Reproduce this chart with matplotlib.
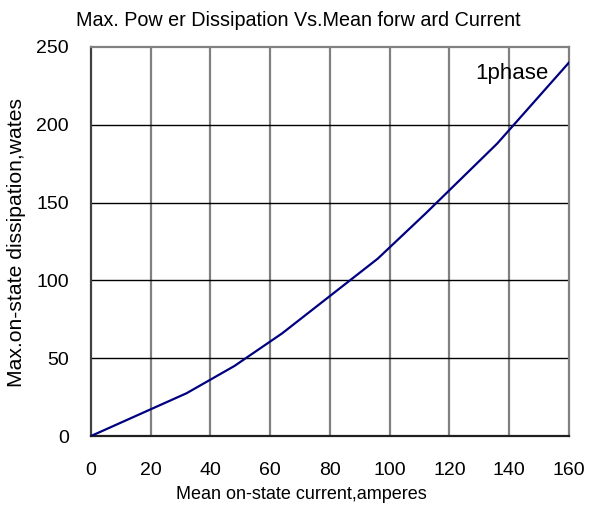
import matplotlib
matplotlib.use('Agg')
import matplotlib.pyplot as plt

# values
current = [0, 32, 48, 64, 80, 96, 112, 128, 136, 148, 160]
power = [0, 27.5, 45, 66, 90, 114, 143, 173, 188, 214, 240]

x_ticks = [0, 20, 40, 60, 80, 100, 120, 140, 160]
y_ticks = [0, 50, 100, 150, 200, 250]

plt.rcParams['font.family'] = ['Liberation Sans', 'DejaVu Sans']

fig = plt.figure(figsize=(5.89, 5.08), dpi=100)
ax = fig.add_axes([0.1545, 0.1417, 0.8115, 0.7658])

for x in x_ticks[1:-1]:
    ax.axvline(x, color='#808080', lw=1.6, zorder=1)
for y in y_ticks[1:-1]:
    ax.axhline(y, color='black', lw=1.0, zorder=1)

ax.plot(current, power, color='#000080', lw=1.6, zorder=3)

ax.set_xlim(0, 160)
ax.set_ylim(0, 250)
ax.set_xticks(x_ticks)
ax.set_yticks(y_ticks)
ax.tick_params(axis='x', length=0, pad=19, labelsize=14)
ax.tick_params(axis='y', length=0, pad=16, labelsize=14)

ax.spines['left'].set_color('#404040')
ax.spines['bottom'].set_color('#202020')
ax.spines['top'].set_color('#808080')
ax.spines['right'].set_color('#808080')
for s in ax.spines.values():
    s.set_linewidth(1.6)

ax.text(128.5, 233, '1phase', fontsize=16, va='center', ha='left')

# title and x label sit left of the plot-area centre, as in the original
fig.text(298 / 589, 1 - 21 / 508, 'Max. Pow er Dissipation Vs.Mean forw ard Current',
         fontsize=14.2, ha='center', va='center')
ax.set_xlabel('Mean on-state current,amperes', fontsize=13)
ax.xaxis.set_label_coords(0.4404, -0.128)
ax.set_ylabel('Max.on-state dissipation,wates', fontsize=15.2)
ax.yaxis.set_label_coords(-0.135, 0.497)

fig.savefig('out.png', dpi=100)
